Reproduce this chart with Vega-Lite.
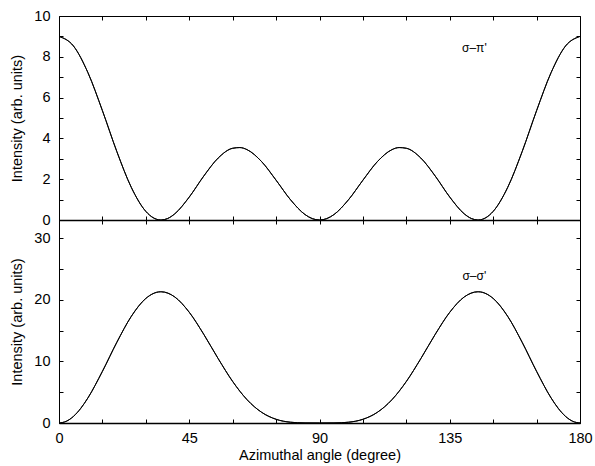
{
  "$schema": "https://vega.github.io/schema/vega-lite/v6.json",
  "padding": {"left": 9, "top": 7, "right": 12, "bottom": 0},
  "spacing": 0,
  "bounds": "flush",
  "config": {
    "font": "Liberation Sans",
    "view": {"stroke": "black", "strokeWidth": 1},
    "axis": {
      "grid": false,
      "domain": false,
      "tickColor": "black",
      "tickSize": -4,
      "labelColor": "black",
      "labelFontSize": 14.5,
      "labelFlush": false,
      "labelOverlap": false,
      "labelPadding": 13,
      "titleColor": "black",
      "titleFontSize": 14.5,
      "titleFontWeight": "normal"
    }
  },
  "datasets": {
    "pi": [
      {"a": 0, "v": 9}, {"a": 5, "v": 8.529}, {"a": 10, "v": 7.221}, {"a": 15, "v": 5.361},
      {"a": 20, "v": 3.348}, {"a": 25, "v": 1.593}, {"a": 30, "v": 0.422}, {"a": 32.5, "v": 0.115},
      {"a": 35, "v": 0.001}, {"a": 35.3, "v": 0}, {"a": 37.5, "v": 0.071}, {"a": 40, "v": 0.303},
      {"a": 45, "v": 1.125}, {"a": 50, "v": 2.151}, {"a": 55, "v": 3.039}, {"a": 60, "v": 3.516},
      {"a": 62.5, "v": 3.551}, {"a": 65, "v": 3.446}, {"a": 70, "v": 2.863}, {"a": 75, "v": 1.951},
      {"a": 80, "v": 0.99}, {"a": 85, "v": 0.267}, {"a": 87.5, "v": 0.068}, {"a": 90, "v": 0},
      {"a": 92.5, "v": 0.068}, {"a": 95, "v": 0.267}, {"a": 100, "v": 0.99}, {"a": 105, "v": 1.951},
      {"a": 110, "v": 2.863}, {"a": 115, "v": 3.446}, {"a": 117.5, "v": 3.551}, {"a": 120, "v": 3.516},
      {"a": 125, "v": 3.039}, {"a": 130, "v": 2.151}, {"a": 135, "v": 1.125}, {"a": 140, "v": 0.303},
      {"a": 142.5, "v": 0.071}, {"a": 144.7, "v": 0}, {"a": 145, "v": 0.001}, {"a": 147.5, "v": 0.115},
      {"a": 150, "v": 0.422}, {"a": 155, "v": 1.593}, {"a": 160, "v": 3.348}, {"a": 165, "v": 5.361},
      {"a": 170, "v": 7.221}, {"a": 175, "v": 8.529}, {"a": 180, "v": 9}
    ],
    "sig": [
      {"a": 0, "v": 0}, {"a": 2.5, "v": 0.273}, {"a": 5, "v": 1.077}, {"a": 7.5, "v": 2.37},
      {"a": 10, "v": 4.084}, {"a": 15, "v": 8.397}, {"a": 20, "v": 13.134}, {"a": 25, "v": 17.352},
      {"a": 30, "v": 20.25}, {"a": 35, "v": 21.331}, {"a": 35.3, "v": 21.333}, {"a": 40, "v": 20.489},
      {"a": 45, "v": 18.0}, {"a": 50, "v": 14.426}, {"a": 55, "v": 10.458}, {"a": 60, "v": 6.75},
      {"a": 65, "v": 3.773}, {"a": 70, "v": 1.74}, {"a": 75, "v": 0.603}, {"a": 80, "v": 0.127},
      {"a": 85, "v": 0.008}, {"a": 90, "v": 0}, {"a": 95, "v": 0.008}, {"a": 100, "v": 0.127},
      {"a": 105, "v": 0.603}, {"a": 110, "v": 1.74}, {"a": 115, "v": 3.773}, {"a": 120, "v": 6.75},
      {"a": 125, "v": 10.458}, {"a": 130, "v": 14.426}, {"a": 135, "v": 18.0}, {"a": 140, "v": 20.489},
      {"a": 144.7, "v": 21.333}, {"a": 145, "v": 21.331}, {"a": 150, "v": 20.25}, {"a": 155, "v": 17.352},
      {"a": 160, "v": 13.134}, {"a": 165, "v": 8.397}, {"a": 170, "v": 4.084}, {"a": 172.5, "v": 2.37},
      {"a": 175, "v": 1.077}, {"a": 177.5, "v": 0.273}, {"a": 180, "v": 0}
    ],
    "lab1": [{"a": 143.5, "v": 8.45, "t": "σ–π'"}],
    "lab2": [{"a": 143.5, "v": 23.9, "t": "σ–σ'"}]
  },
  "vconcat": [
    {
      "width": 521,
      "height": 204,
      "layer": [
        {
          "data": {"name": "pi"},
          "mark": {"type": "line", "color": "black", "strokeWidth": 1, "interpolate": "monotone"},
          "encoding": {
            "x": {"field": "a", "type": "quantitative", "scale": {"domain": [0, 180], "nice": false},
                  "axis": {"orient": "bottom", "values": [0,15,30,45,60,75,90,105,120,135,150,165,180], "labels": false, "title": null, "domain": true, "domainColor": "black", "domainWidth": 1.6}},
            "y": {"field": "v", "type": "quantitative", "scale": {"domain": [0, 10], "nice": false},
                  "axis": {"orient": "left", "values": [0,1,2,3,4,5,6,7,8,9,10], "labelExpr": "datum.value % 2 === 0 ? datum.label : ''", "title": "Intensity (arb. units)", "titlePadding": 9}}
          }
        },
        {
          "data": {"name": "pi"},
          "mark": {"type": "line", "color": "black", "strokeWidth": 1, "interpolate": "monotone"},
          "encoding": {
            "x": {"field": "a", "type": "quantitative",
                  "axis": {"orient": "top", "values": [0,15,30,45,60,75,90,105,120,135,150,165,180], "labels": false, "title": null}},
            "y": {"field": "v", "type": "quantitative",
                  "axis": {"orient": "right", "values": [0,1,2,3,4,5,6,7,8,9,10], "labels": false, "title": null}}
          }
        },
        {
          "data": {"name": "lab1"},
          "mark": {"type": "text", "color": "black", "fontSize": 12, "align": "center", "baseline": "middle"},
          "encoding": {
            "x": {"field": "a", "type": "quantitative", "axis": null},
            "y": {"field": "v", "type": "quantitative", "axis": null},
            "text": {"field": "t"}
          }
        }
      ],
      "resolve": {"axis": {"x": "independent", "y": "independent"}}
    },
    {
      "width": 521,
      "height": 203,
      "layer": [
        {
          "data": {"name": "sig"},
          "mark": {"type": "line", "color": "black", "strokeWidth": 1, "interpolate": "monotone"},
          "encoding": {
            "x": {"field": "a", "type": "quantitative", "scale": {"domain": [0, 180], "nice": false},
                  "axis": {"orient": "bottom", "values": [0,15,30,45,60,75,90,105,120,135,150,165,180], "labelExpr": "datum.value % 45 === 0 ? datum.label : ''", "labelPadding": 12, "title": "Azimuthal angle (degree)", "titlePadding": 4, "domain": true, "domainColor": "black", "domainWidth": 1.6}},
            "y": {"field": "v", "type": "quantitative", "scale": {"domain": [0, 33], "nice": false},
                  "axis": {"orient": "left", "values": [0,5,10,15,20,25,30], "labelExpr": "datum.value % 10 === 0 ? datum.label : ''", "title": "Intensity (arb. units)", "titlePadding": 9}}
          }
        },
        {
          "data": {"name": "sig"},
          "mark": {"type": "line", "color": "black", "strokeWidth": 1, "interpolate": "monotone"},
          "encoding": {
            "x": {"field": "a", "type": "quantitative",
                  "axis": {"orient": "top", "values": [0,15,30,45,60,75,90,105,120,135,150,165,180], "labels": false, "title": null}},
            "y": {"field": "v", "type": "quantitative",
                  "axis": {"orient": "right", "values": [0,5,10,15,20,25,30], "labels": false, "title": null}}
          }
        },
        {
          "data": {"name": "lab2"},
          "mark": {"type": "text", "color": "black", "fontSize": 12, "align": "center", "baseline": "middle"},
          "encoding": {
            "x": {"field": "a", "type": "quantitative", "axis": null},
            "y": {"field": "v", "type": "quantitative", "axis": null},
            "text": {"field": "t"}
          }
        }
      ],
      "resolve": {"axis": {"x": "independent", "y": "independent"}}
    }
  ]
}
